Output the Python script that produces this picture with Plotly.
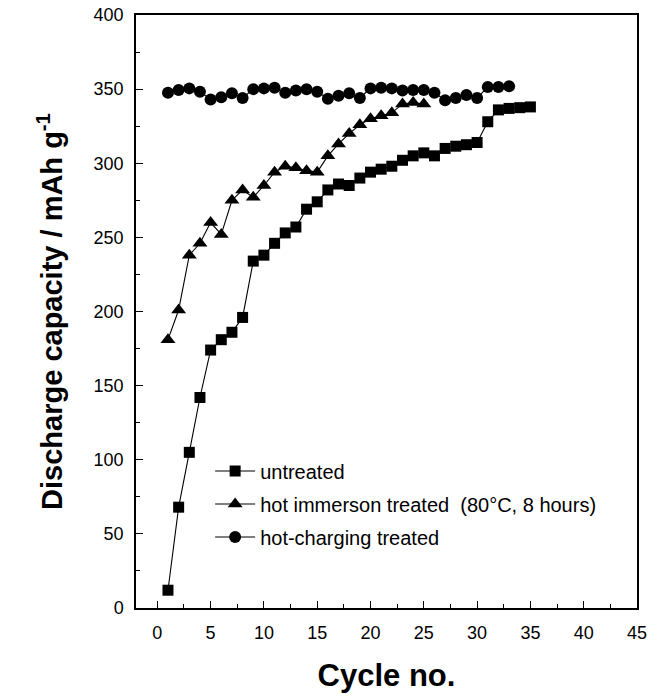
import plotly.graph_objects as go

untreated_cycles = list(range(1, 36))
untreated_cap = [12, 68, 105, 142, 174, 181, 186, 196, 234, 238,
                 246, 253, 257, 269, 274, 282, 286, 285, 290, 294,
                 296, 298, 302, 305, 307, 305, 310, 311.5, 312.5, 314,
                 328, 336, 337, 337.5, 338]

immersion_cycles = list(range(1, 26))
immersion_cap = [181, 201, 238, 246, 260, 252, 275, 282, 277, 285,
                 294, 298, 297, 295, 294, 305, 313, 320, 326, 330,
                 332, 334, 340, 341, 340]

charging_cycles = list(range(1, 34))
charging_cap = [347.5, 349.4, 350.5, 348.3, 343, 344.5, 347.2, 344, 350, 350.5,
                351, 347.6, 349, 349.9, 348.3, 343.5, 345.5, 347.2, 344, 350.5,
                351, 350.5, 349, 349.4, 349.4, 347.6, 342.5, 344, 346, 344,
                351.5, 351.5, 352]

series_names = ["untreated",
                "hot immerson treated  (80°C, 8 hours)",
                "hot-charging treated"]

FONT = "Liberation Sans, Arial, sans-serif"

fig = go.Figure()
fig.add_trace(go.Scatter(x=untreated_cycles, y=untreated_cap, mode="lines+markers",
                         name=series_names[0], legendgroup="a",
                         line=dict(color="black", width=1.1),
                         marker=dict(symbol="square", size=11, color="black")))
fig.add_trace(go.Scatter(x=immersion_cycles, y=immersion_cap, mode="lines+markers",
                         name=series_names[1], legendgroup="b",
                         line=dict(color="black", width=1.1),
                         marker=dict(symbol="triangle-up", size=13, color="black")))
fig.add_trace(go.Scatter(x=charging_cycles, y=charging_cap, mode="lines+markers",
                         name=series_names[2], legendgroup="c",
                         line=dict(color="black", width=1.1),
                         marker=dict(symbol="circle", size=12, color="black")))

fig.update_layout(
    width=660, height=698,
    margin=dict(l=136, r=23, t=15, b=90),
    paper_bgcolor="white", plot_bgcolor="white",
    font=dict(family=FONT, color="black", size=18),
    legend=dict(x=0.148, y=0.264, xanchor="left", yanchor="top",
                bgcolor="rgba(0,0,0,0)", font=dict(size=20, family=FONT),
                traceorder="grouped", tracegroupgap=4, itemwidth=40),
    xaxis=dict(range=[-2, 45], tickvals=list(range(0, 46, 5)), automargin=False,
               ticks="inside", ticklen=7, tickwidth=1.2, tickcolor="black",
               minor=dict(dtick=2.5, tick0=0, ticks="inside", ticklen=4, tickwidth=1.2, tickcolor="black"),
               showline=True, linecolor="black", linewidth=1.5, mirror=True,
               showgrid=False, zeroline=False, ticklabelstandoff=8,
               tickfont=dict(size=18, family=FONT),
               title=dict(text="<b>Cycle no.</b>", font=dict(size=31, family=FONT), standoff=22)),
    yaxis=dict(range=[0, 400], tickvals=list(range(0, 401, 50)), automargin=False,
               ticks="inside", ticklen=7, tickwidth=1.2, tickcolor="black",
               minor=dict(dtick=25, tick0=0, ticks="inside", ticklen=4, tickwidth=1.2, tickcolor="black"),
               showline=True, linecolor="black", linewidth=1.5, mirror=True,
               showgrid=False, zeroline=False, ticklabelstandoff=7,
               tickfont=dict(size=18, family=FONT),
               title=dict(text="<b>Discharge capacity / mAh g<sup>-1</sup></b>",
                          font=dict(size=29, family=FONT), standoff=22)),
)

fig.write_html("out.html")
